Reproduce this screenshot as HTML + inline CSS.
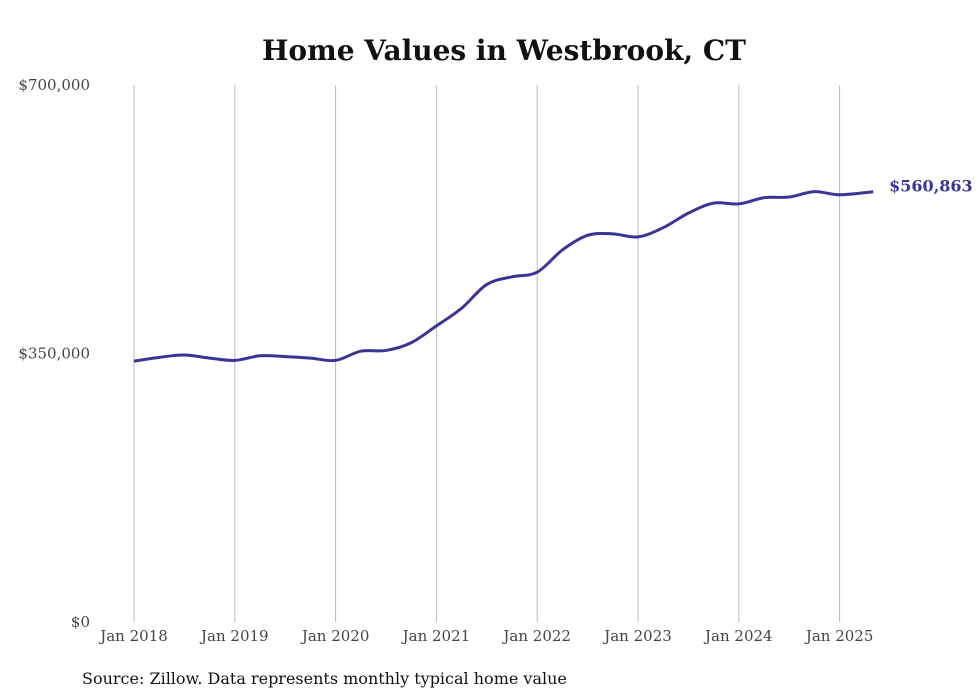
<!DOCTYPE html>
<html><head><meta charset="utf-8"><style>
body{margin:0;background:#fff;width:980px;height:699px;overflow:hidden}
svg{display:block}
</style></head><body>
<svg id="chart" width="980" height="699">
<text x="504" y="60" text-anchor="middle" font-family="'DejaVu Serif','Liberation Serif',serif" font-weight="bold" font-size="28" fill="#111">Home Values in Westbrook, CT</text>
<g id="grid"></g><g id="yticks"></g><g id="xticks"></g>
<path id="line" fill="none" stroke="#3b3497" stroke-width="3"/>
<text id="endlabel" font-family="'DejaVu Serif','Liberation Serif',serif" font-weight="bold" font-size="16" fill="#3b3497"></text>
<text x="82" y="684" font-family="'DejaVu Serif','Liberation Serif',serif" font-size="16" fill="#111">Source: Zillow. Data represents monthly typical home value</text>
</svg>
<script>
const yTicks=[0,350000,700000];
const yTickLabels=["$0","$350,000","$700,000"];
const xTickYears=[2018,2019,2020,2021,2022,2023,2024,2025];
const dates=[2018.0,2018.25,2018.5,2018.75,2019.0,2019.25,2019.5,2019.75,2020.0,2020.25,2020.5,2020.75,2021.0,2021.25,2021.5,2021.75,2022.0,2022.25,2022.5,2022.75,2023.0,2023.25,2023.5,2023.75,2024.0,2024.25,2024.5,2024.75,2025.0,2025.333];
const values=[340000,345000,348000,344000,341000,347000,346000,344000,341000,353000,354000,364000,386000,409000,440000,450000,456000,485000,504000,506000,502000,514000,533000,546000,545000,553000,554000,561000,557000,560863];
const X=v=>134+(v-2018)*100.8, Y=v=>622-v/700000*537;
const ns="http://www.w3.org/2000/svg";
const grid=document.getElementById('grid'),xt=document.getElementById('xticks'),yt=document.getElementById('yticks');
const font="'DejaVu Serif','Liberation Serif',serif";
xTickYears.forEach(yr=>{
 const l=document.createElementNS(ns,'line');
 
 
 l.setAttribute('x1',X(yr));l.setAttribute('x2',X(yr));l.setAttribute('y1',85);l.setAttribute('y2',622);
 l.setAttribute('stroke','#bbb');l.setAttribute('stroke-width','1');grid.appendChild(l);
 const t=document.createElementNS(ns,'text');
 
 
 t.setAttribute('x',X(yr));t.setAttribute('y',641);t.setAttribute('text-anchor','middle');
 t.setAttribute('font-family',font);t.setAttribute('font-size','15');t.setAttribute('fill','#444');
 t.textContent='Jan '+yr;xt.appendChild(t);
});
yTicks.forEach((v,i)=>{
 const t=document.createElementNS(ns,'text');
 
 
 t.setAttribute('x',90);t.setAttribute('y',Y(v)+5);t.setAttribute('text-anchor','end');
 t.setAttribute('font-family',font);t.setAttribute('font-size','15');t.setAttribute('fill','#444');
 t.textContent=yTickLabels[i];yt.appendChild(t);
});
const pts=dates.map((d,i)=>[X(d),Y(values[i])]);
let d='M'+pts[0][0]+','+pts[0][1];
for(let i=0;i<pts.length-1;i++){
 const p0=pts[Math.max(0,i-1)],p1=pts[i],p2=pts[i+1],p3=pts[Math.min(pts.length-1,i+2)];
 const c1=[p1[0]+(p2[0]-p0[0])/6,p1[1]+(p2[1]-p0[1])/6];
 const c2=[p2[0]-(p3[0]-p1[0])/6,p2[1]-(p3[1]-p1[1])/6];
 d+=' C'+c1+' '+c2+' '+p2;
}
document.getElementById('line').setAttribute('d',d);
const el=document.getElementById('endlabel'),last=pts[pts.length-1];
el.setAttribute('x',last[0]+16);el.setAttribute('y',last[1]);
el.textContent='$'+values[values.length-1].toLocaleString('en-US');
</script>
</body></html>
